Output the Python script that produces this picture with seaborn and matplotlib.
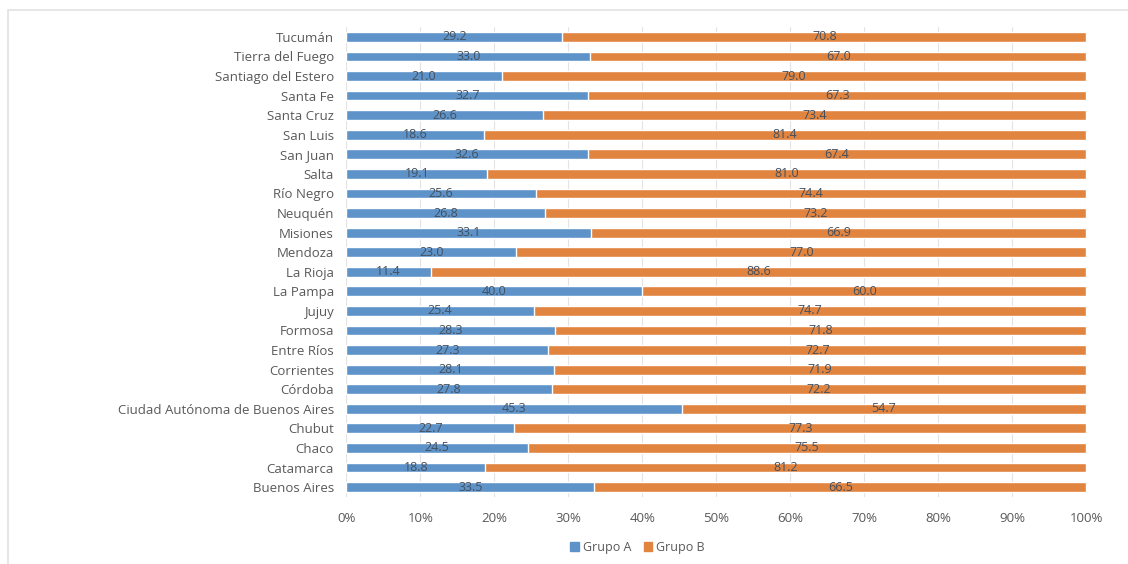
import numpy as np
import pandas as pd
import matplotlib
matplotlib.use("Agg")
import matplotlib.pyplot as plt
import seaborn as sns
from matplotlib.patches import Patch, Rectangle

# --- Data (top to bottom) ---
provincias = ["Tucumán", "Tierra del Fuego", "Santiago del Estero", "Santa Fe",
              "Santa Cruz", "San Luis", "San Juan", "Salta", "Río Negro", "Neuquén",
              "Misiones", "Mendoza", "La Rioja", "La Pampa", "Jujuy", "Formosa",
              "Entre Ríos", "Corrientes", "Córdoba", "Ciudad Autónoma de Buenos Aires",
              "Chubut", "Chaco", "Catamarca", "Buenos Aires"]
grupo_a = [29.2, 33.0, 21.0, 32.7, 26.6, 18.6, 32.6, 19.1, 25.6, 26.8, 33.1, 23.0,
           11.4, 40.0, 25.4, 28.3, 27.3, 28.1, 27.8, 45.3, 22.7, 24.5, 18.8, 33.5]
grupo_b = [70.8, 67.0, 79.0, 67.3, 73.4, 81.4, 67.4, 81.0, 74.4, 73.2, 66.9, 77.0,
           88.6, 60.0, 74.7, 71.8, 72.7, 71.9, 72.2, 54.7, 77.3, 75.5, 81.2, 66.5]

BLUE = "#5e93c9"
ORANGE = "#e0843f"
TEXT = "#595959"
LABEL = "#44505e"

df = pd.DataFrame({"prov": provincias, "a": grupo_a, "b": grupo_b})
df["tot"] = df["a"] + df["b"]
df["a_pct"] = df["a"] / df["tot"] * 100
df["full"] = 100.0

sns.set_theme(style="white")
plt.rcParams["font.family"] = ["Open Sans", "DejaVu Sans"]

fig = plt.figure(figsize=(11.28, 5.64), dpi=100)
# light chart frame (top and left edges visible in the reference)
fig.patches.append(Rectangle((8 / 1128, -0.01), 1.1, 1 - 10 / 564 + 0.01,
                             transform=fig.transFigure, fill=False,
                             edgecolor="#e2e2e2", linewidth=1.2))
ax = fig.add_axes([0.307, 0.119, 0.656, 0.833])

# stacked 100% bars: orange full width underneath, blue on top
sns.barplot(data=df, x="full", y="prov", order=provincias, color=ORANGE,
            saturation=1, width=0.5, ax=ax, orient="h")
sns.barplot(data=df, x="a_pct", y="prov", order=provincias, color=BLUE,
            saturation=1, width=0.5, ax=ax, orient="h")

# value labels centred in each segment
for i, row in df.iterrows():
    ax.text(row["a_pct"] / 2, i, f"{row['a']:.1f}", ha="center", va="center",
            fontsize=9, color=LABEL)
    ax.text(row["a_pct"] + (100 - row["a_pct"]) / 2, i, f"{row['b']:.1f}",
            ha="center", va="center", fontsize=9, color=LABEL)

ax.set_xlim(0, 100)
ax.set_xticks(np.arange(0, 101, 10))
ax.set_xticklabels([f"{t}%" for t in range(0, 101, 10)])
ax.xaxis.grid(True, color="#e3e3e3", linewidth=0.8)
ax.set_axisbelow(True)
for s in ax.spines.values():
    s.set_visible(False)
ax.set_xlabel("")
ax.set_ylabel("")
ax.tick_params(axis="x", length=0, pad=11, labelsize=9.5, labelcolor=TEXT)
ax.tick_params(axis="y", length=0, pad=9, labelsize=9.5, labelcolor=TEXT)

handles = [Patch(color=BLUE, label="Grupo A"), Patch(color=ORANGE, label="Grupo B")]
fig.legend(handles=handles, loc="center", bbox_to_anchor=(0.565, 0.03), ncol=2,
           frameon=False, fontsize=9, labelcolor=TEXT, handlelength=0.7,
           handleheight=0.7, columnspacing=1.0, handletextpad=0.3)

fig.savefig("out.png", dpi=100)
